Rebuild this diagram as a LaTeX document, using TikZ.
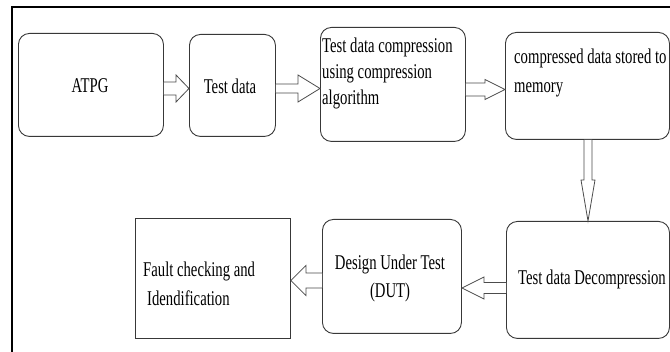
\documentclass[tikz,border=0pt]{standalone}
\usepackage{fontspec}
\setmainfont{Liberation Serif}[FakeStretch=0.70]
\usetikzlibrary{calc}
\definecolor{boxgray}{gray}{0.22}
\definecolor{arrgray}{gray}{0.3}
\definecolor{txtcol}{gray}{0.0}
\tikzset{
  box/.style={draw=boxgray, line width=0.9pt, rounded corners=11pt, anchor=north west, inner sep=0pt},
  sbox/.style={draw=boxgray, line width=0.9pt, anchor=north west, inner sep=0pt},
  txt/.style={inner sep=0pt, text=txtcol, font=\fontsize{21}{27}\selectfont},
  barrow/.style={draw=arrgray, line width=0.8pt, fill=white, line join=miter},
  frame/.style={draw=black, line width=2pt, line join=miter}
}
\newcommand\blkarrow[5]{%
  \coordinate (hb) at ($(#2)!#5!(#1)$);
  \draw[barrow] ($(#1)!#3!90:(#2)$) -- ($(hb)!#3!90:(#2)$) -- ($(hb)!#4!90:(#2)$) -- (#2)
     -- ($(hb)!#4!-90:(#2)$) -- ($(hb)!#3!-90:(#2)$) -- ($(#1)!#3!-90:(#2)$);
}
\begin{document}
\begin{tikzpicture}[x=1pt,y=-1pt]
\useasboundingbox (0,0) rectangle (670,352);
\fill[white] (0,0) rectangle (670,352);
\draw[frame] (12,352) -- (12,7) -- (670,7);

% boxes
\node[box, minimum width=145pt, minimum height=103pt] (atpg) at (18,33) {};
\node[box, minimum width=86pt, minimum height=102pt] (td) at (189,34) {};
\node[box, minimum width=145pt, minimum height=114pt] (comp) at (320,27) {};
\node[box, minimum width=164pt, minimum height=107pt] (mem) at (505,32) {};
\node[box, minimum width=163pt, minimum height=117pt] (dec) at (506,221) {};
\node[box, minimum width=139pt, minimum height=114pt] (dut) at (322,219) {};
\node[sbox, minimum width=155pt, minimum height=120pt] (fault) at (135,218) {};

% texts
\node[txt, anchor=base] (atpgtxt) at (90,93) {ATPG};
\node[txt, anchor=base] (tdtxt) at (230,94) {Test data};
\node[txt, anchor=base west] (comp1) at (322,53) {Test data compression};
\node[txt, anchor=base west] (comp2) at (322,79) {using compression};
\node[txt, anchor=base west] (comp3) at (322,105) {algorithm};
\node[txt, anchor=base west] (mem1) at (514,64) {compressed data stored to};
\node[txt, anchor=base west] (mem2) at (514,93) {memory};
\node[txt, anchor=base] (dec1) at (592,285) {Test data Decompression};
\node[txt, anchor=base] (dut1) at (390,270) {Design Under Test};
\node[txt, anchor=base] (dut2) at (390,298) {(DUT)};
\node[txt, anchor=base west] (f1) at (143,277) {Fault checking and};
\node[txt, anchor=base west] (f2) at (147,306) {Idendification};

% connectors
\coordinate (s1) at (atpg.east |- 0,88.5);
\coordinate (t1) at (td.west |- 0,88.5);
\blkarrow{s1}{t1}{6.5pt}{13.5pt}{13pt}
\coordinate (s2) at (td.east |- 0,88.5);
\coordinate (t2) at (comp.west |- 0,88.5);
\blkarrow{s2}{t2}{4.5pt}{13.5pt}{22pt}
\coordinate (s3) at (comp.east |- 0,89.5);
\coordinate (t3) at (mem.west |- 0,89.5);
\blkarrow{s3}{t3}{6.5pt}{10pt}{20pt}
\coordinate (s4) at (mem.south -| 588,0);
\coordinate (t4) at (dec.north -| 588,0);
\blkarrow{s4}{t4}{4pt}{7pt}{41pt}
\coordinate (s5) at (dec.west |- 0,288);
\coordinate (t5) at (dut.east |- 0,288);
\blkarrow{s5}{t5}{5.5pt}{11pt}{22pt}
\coordinate (s6) at (dut.west |- 0,280.5);
\coordinate (t6) at (fault.east |- 0,280.5);
\blkarrow{s6}{t6}{7.5pt}{15pt}{15pt}
\end{tikzpicture}
\end{document}
